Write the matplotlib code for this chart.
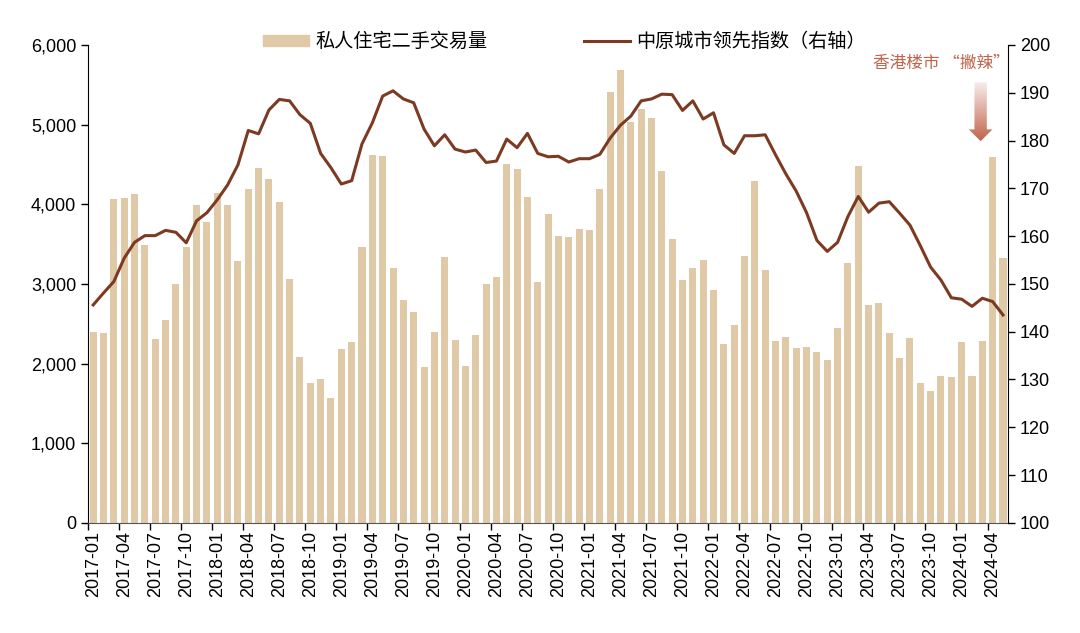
import numpy as np
import matplotlib.pyplot as plt
from matplotlib.patches import Polygon, Patch
from matplotlib.lines import Line2D
from matplotlib.colors import LinearSegmentedColormap

plt.rcParams['font.family'] = ['Liberation Sans', 'Noto Sans CJK SC', 'DejaVu Sans']
cjk = ['Noto Sans CJK SC', 'DejaVu Sans']

# months 2017-01 .. 2024-05
months = [f"{y}-{m:02d}" for y in range(2017, 2025) for m in range(1, 13)][:89]

volume = [2393, 2380, 4065, 4078, 4124, 3488, 2309, 2543, 2999, 3463,
          3990, 3772, 4136, 3986, 3287, 4190, 4450, 4316, 4023, 3061,
          2083, 1761, 1803, 1564, 2179, 2267, 3459, 4613, 4605, 3199,
          2798, 2647, 1957, 2396, 3337, 2300, 1966, 2363, 2999, 3082,
          4504, 4441, 4094, 3020, 3873, 3597, 3584, 3689, 3676, 4195,
          5408, 5684, 5031, 5198, 5077, 4417, 3559, 3045, 3203, 3304,
          2919, 2246, 2484, 3354, 4291, 3174, 2279, 2329, 2200, 2208,
          2146, 2041, 2443, 3258, 4479, 2739, 2760, 2388, 2066, 2321,
          1761, 1660, 1844, 1828, 2271, 1844, 2279, 4592, 3325]

cl_index = [145.6, 148.1, 150.5, 155.4, 158.7, 160.1, 160.1, 161.2, 160.8, 158.6,
            163.2, 164.9, 167.6, 170.7, 174.9, 182.1, 181.4, 186.4, 188.6, 188.3,
            185.4, 183.6, 177.3, 174.3, 170.9, 171.6, 179.3, 183.7, 189.3, 190.4,
            188.7, 187.9, 182.4, 178.9, 181.2, 178.2, 177.6, 178.0, 175.4, 175.7,
            180.3, 178.5, 181.5, 177.3, 176.6, 176.7, 175.5, 176.2, 176.2, 177.1,
            180.5, 183.2, 185.1, 188.3, 188.7, 189.7, 189.6, 186.3, 188.3, 184.5,
            185.8, 179.1, 177.3, 181.0, 181.0, 181.2, 177.0, 173.0, 169.4, 164.9,
            159.1, 156.8, 158.7, 164.1, 168.3, 165.0, 166.9, 167.2, 164.8, 162.3,
            158.0, 153.5, 150.8, 147.1, 146.8, 145.3, 147.0, 146.3, 143.5]

bar_color = '#dfc9a6'
line_color = '#7d3a22'
note_color = '#c0644a'

fig = plt.figure(figsize=(10.8, 6.33), dpi=100)
ax = fig.add_axes([0.0815, 0.174, 0.852, 0.755])
x = np.arange(len(months))
ax.bar(x, volume, width=0.68, color=bar_color, zorder=2)
ax.set_xlim(-0.5, len(months) - 0.5)
ax.set_ylim(0, 6000)
ax.set_yticks(np.arange(0, 6001, 1000))
ax.set_yticklabels([f"{v:,}" for v in range(0, 6001, 1000)], fontsize=13)
ax.set_xticks(x[::3])
ax.set_xticklabels(months[::3], rotation=90, fontsize=13)
ax.set_xticks(x[::3] - 0.5, minor=True)
ax.tick_params(axis='x', which='major', length=0, pad=6)
ax.tick_params(axis='x', which='minor', length=5, width=1)
ax.tick_params(axis='y', length=5, width=1)
for s in ['top', 'right']:
    ax.spines[s].set_visible(False)
ax.spines['bottom'].set_color('#555555')

ax2 = ax.twinx()
ax2.plot(x, cl_index, color=line_color, lw=2.2, zorder=3)
ax2.set_ylim(100, 200)
ax2.set_yticks(np.arange(100, 201, 10))
ax2.tick_params(axis='y', labelsize=13, length=5, width=1)
for s in ['top', 'left', 'bottom']:
    ax2.spines[s].set_visible(False)

handles = [Patch(color=bar_color), Line2D([], [], color=line_color, lw=2.2)]
fig.legend(handles, ['私人住宅二手交易量', '中原城市领先指数（右轴）'],
           loc='center', bbox_to_anchor=(0.5225, 0.934), ncol=2, frameon=False,
           prop={'family': cjk, 'size': 13.8}, handlelength=2.4, handleheight=0.55,
           columnspacing=5.0, handletextpad=0.35)

fig.text(0.872, 0.9, '香港楼市 “撇辣”', color=note_color, ha='center', va='center',
         family=cjk, fontsize=12)

# gradient arrow
arr_ax = fig.add_axes([0.897, 0.777, 0.022, 0.093])
arr_ax.set_xlim(0, 1)
arr_ax.set_ylim(0, 1)
arr_ax.axis('off')
grad = np.linspace(0, 1, 256).reshape(-1, 1)
cmap = LinearSegmentedColormap.from_list('g', ['#c0644a', '#f8eced'])
im = arr_ax.imshow(grad, extent=[0, 1, 0, 1], origin='lower', cmap=cmap, aspect='auto')
poly = Polygon([[0.24, 1], [0.76, 1], [0.76, 0.2], [1, 0.2], [0.5, 0], [0, 0.2], [0.24, 0.2]],
               closed=True, transform=arr_ax.transData, facecolor='none', edgecolor='none')
arr_ax.add_patch(poly)
im.set_clip_path(poly)

fig.savefig('out.png', dpi=100)
